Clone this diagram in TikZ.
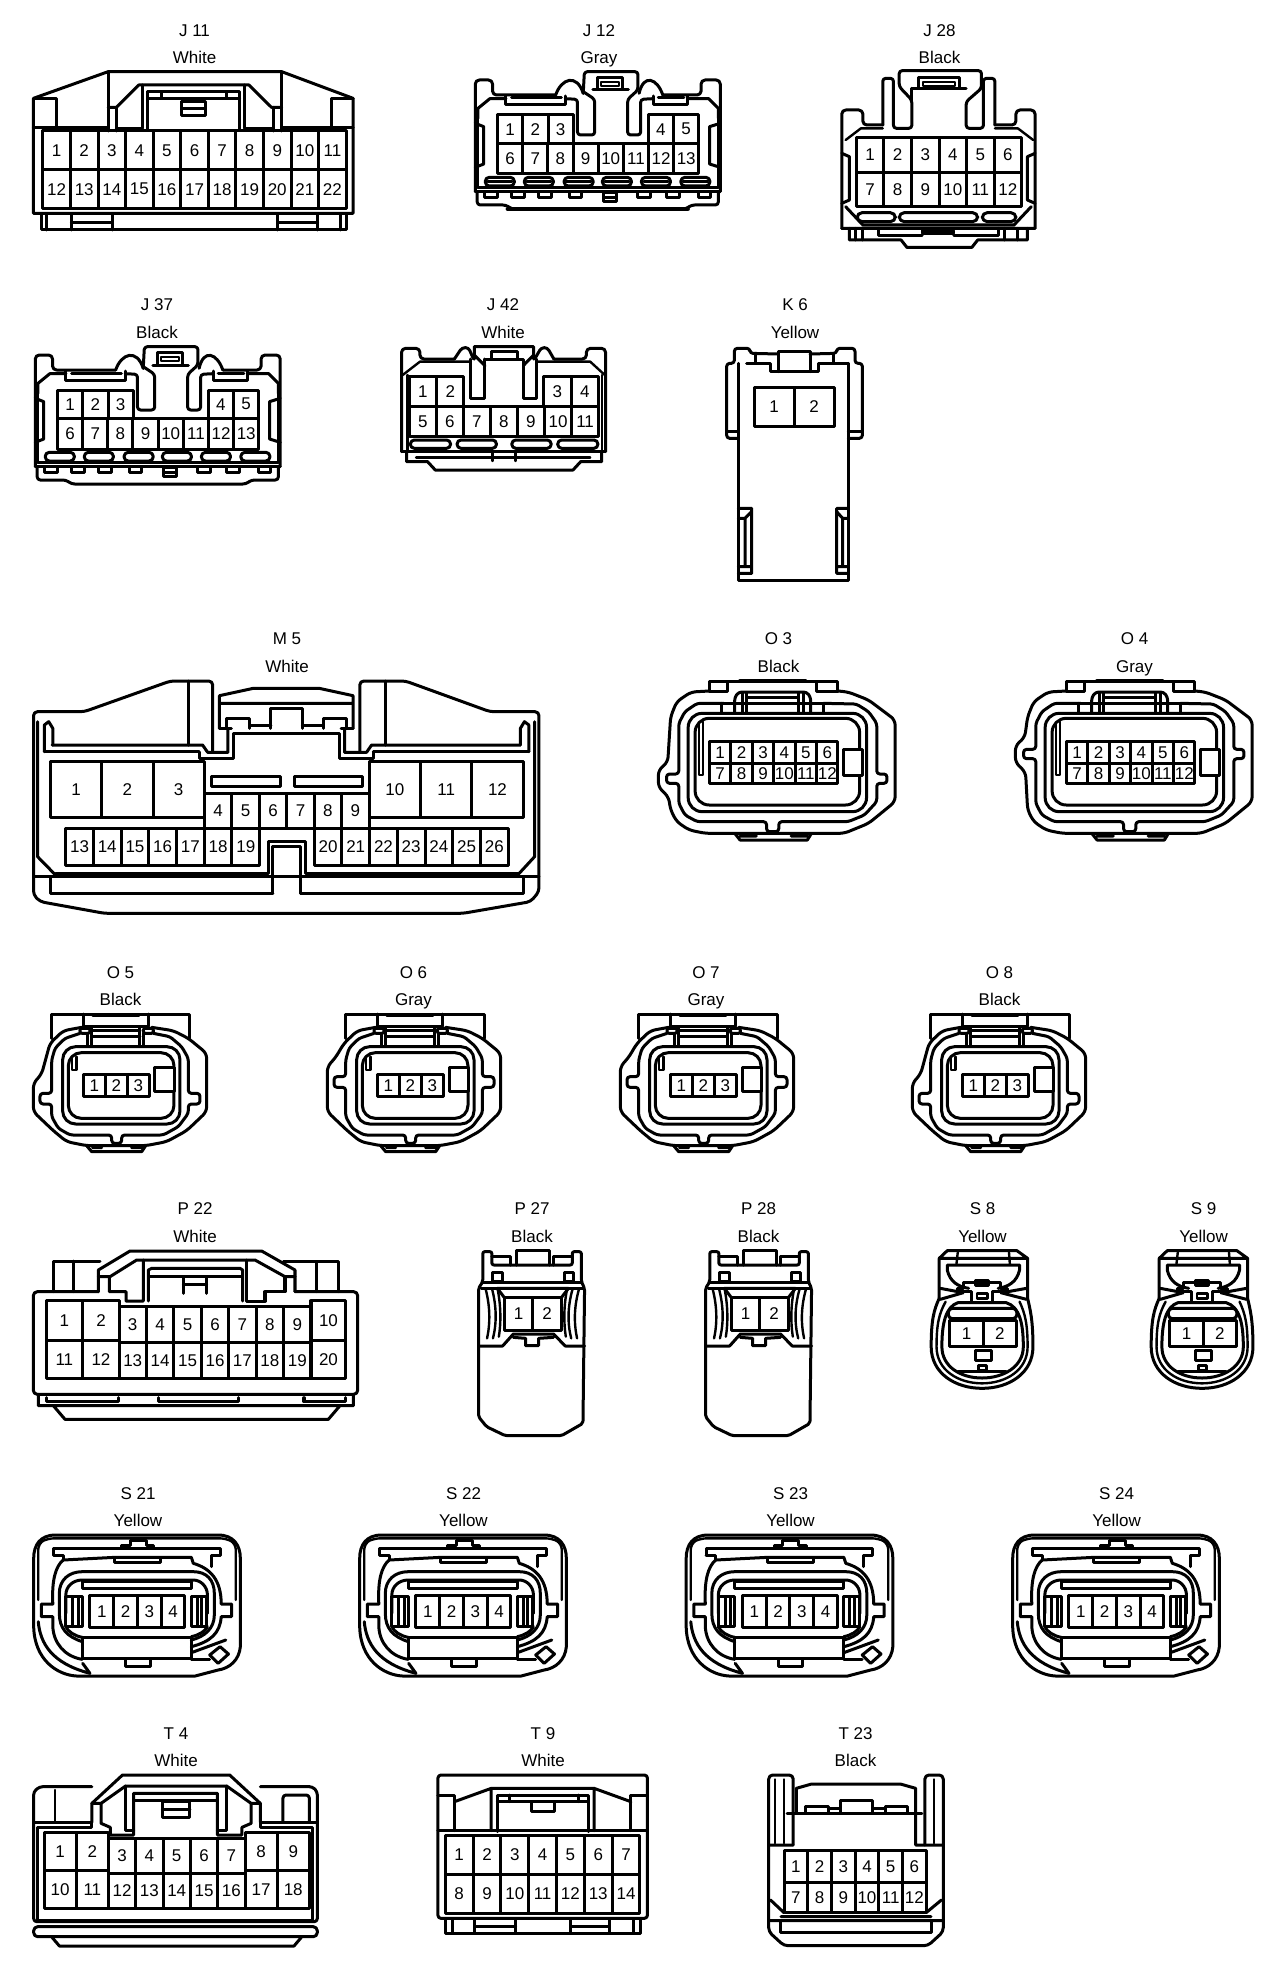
\documentclass[tikz,border=0pt]{standalone}
\usepackage{fontspec}
\setmainfont{Liberation Sans}
\usetikzlibrary{positioning}
\tikzset{view/.style n args={3}{shift={(#1,#2)},x=#3pt,y=-0.33333pt}}

% one row of numbered cavities: prefix, first, last, left, width, top, bottom
\newcommand\pinrow[7]{
    \foreach \n in {#2,...,#3}
        \draw[wire] ({#4+(\n-#2)*#5},#6) rectangle ({#4+(\n-#2+1)*#5},#7) node[midway,pinnum] (#1-\n) {\n};
}

% name and colour above a connector
\newcommand\tagged[5]{
    \node[tag] (#1-name) at (#2,#3) {#4};
    \node[tag] (#1-colour) at (#2,#3+27.5) {#5};
}

% body shared by J 12 and J 37
\newcommand\jbody[3]{
\begin{scope}[view={#2}{#3}{0.3827}]
    \draw[wire,rounded corners=4pt] (40,395) -- (40,60) -- (85,60) -- (85,105) -- (250,105);
    \draw[wire,rounded corners=4pt] (680,395) -- (680,60) -- (630,60) -- (630,105) -- (530,105);
    \draw[wire] (250,105) .. controls (265,55) and (305,40) .. (322,100);
    \draw[wire] (530,105) .. controls (515,55) and (480,40) .. (468,100);
    \draw[wire,rounded corners=3pt] (322,100) -- (325,35) -- (465,35) -- (465,90) -- (438,118) -- (438,225) -- (472,225) -- (472,118) -- (505,116);
    \draw[wire,rounded corners=3pt] (322,95) -- (352,118) -- (352,225) -- (307,225) -- (307,118) -- (275,116);
    \draw[wire] (347,90) -- (440,90) (358,88) -- (358,52) -- (425,52) -- (425,88);
    \draw[fine] (368,66) rectangle (415,78);
    \draw[wire] (47,175) -- (47,145) -- (78,116) -- (120,116) (595,116) -- (650,116) -- (675,145) -- (675,175);
    \draw[wire] (120,108) -- (120,135) -- (275,135) -- (275,108) (135,114) -- (265,114);
    \draw[wire] (505,108) -- (505,135) -- (595,135) -- (595,108) (518,114) -- (585,114);
    \draw[wire] (40,190) -- (62,200) -- (62,312) -- (40,322) (680,190) -- (652,200) -- (652,312) -- (680,322);
    \pinrow{#1}{1}{3}{98}{66}{165}{250}
    \pinrow{#1}{4}{5}{492}{66}{165}{250}
    \pinrow{#1}{6}{13}{98}{65.75}{250}{342}
    \foreach \x in {66,168,272,372,474,577}
        \draw[wire,rounded corners=4pt] (\x,352) rectangle ({\x+76},378);
    \draw[wire] (47,175) -- (47,382) -- (675,382) -- (675,175) (40,395) -- (680,395);
    \draw[wire,rounded corners=3pt] (45,395) -- (45,435) -- (120,435) -- (135,447) -- (590,447) -- (605,435) -- (675,435) -- (675,395);
    \foreach \x in {65,135,205,285,465,540,622}
        \draw[wire] (\x,397) -- (\x,412) -- ({\x+33},412) -- ({\x+33},397);
    \draw[wire] (375,397) rectangle (408,425) (375,412) -- (408,412);
\end{scope}
}

% large oval housing: O 3 and O 4
\newcommand\obig[3]{
\begin{scope}[view={#2}{620}{0.4082}]
    \pgfmathsetmacro\ta{#3-50}
    \pgfmathsetmacro\tb{#3-25}
    \pgfmathsetmacro\tc{#3+25}
    \pgfmathsetmacro\td{#3+55}
    \pgfmathsetmacro\te{#3-14}
    \pgfmathsetmacro\tf{#3+14}
    \draw[wire] (170,213) -- (170,183) -- (485,183) -- (485,213) (215,185) -- (215,213) -- (170,213) (432,185) -- (432,213) -- (485,213);
    \draw[wire,line width=4pt] (245,183) -- (405,183);
    \draw[wire,rounded corners=5pt] (170,213) -- (125,216) -- (90,245) -- (75,290) -- (68,\ta) -- (45,\tb) -- (45,\tc) -- (70,\td) -- (75,570) -- (90,605) -- (120,630) -- (160,640) -- (500,640) -- (560,610) -- (625,545) -- (625,300) -- (560,240) -- (510,216) -- (485,213);
    \draw[wire,rounded corners=3pt] (205,250) -- (140,250) -- (110,275) -- (95,310) -- (95,\te) -- (65,\te) -- (65,\tf) -- (95,\tf) -- (95,550) -- (110,585) -- (140,605) -- (310,605) -- (310,635) -- (340,635) -- (340,605) -- (510,605) -- (550,585) -- (580,545) -- (580,\tf) -- (605,\tf) -- (605,\te) -- (580,\te) -- (580,310) -- (560,275) -- (530,252) -- (450,250);
    \draw[wire,rounded corners=14pt] (118,280) rectangle (555,575) (135,295) rectangle (538,555);
    \draw[fine] (145,312) -- (145,465) -- (155,465) -- (155,305);
    \draw[wire,rounded corners=3pt] (232,278) -- (232,232) -- (242,216) -- (408,216) -- (418,232) -- (418,278);
    \draw[wire] (200,250) -- (200,276) (450,250) -- (450,276) (200,250) -- (260,250) (390,250) -- (450,250);
    \draw[wire] (250,218) -- (250,280) (262,218) -- (262,280) (388,218) -- (388,280) (400,218) -- (400,280);
    \draw[wire] (262,232) -- (388,232) (262,250) -- (388,250);
    \draw[wire] (232,640) -- (245,660) -- (410,660) -- (420,640) (245,648) -- (285,648) (370,648) -- (410,648);
    \draw[wire,fill=white] (498,388) rectangle (545,465);
    \pinrow{#1}{1}{6}{170}{52.5}{365}{430}
    \pinrow{#1}{7}{12}{170}{52.5}{430}{490}
\end{scope}
}

% small oval housing: O 5 to O 8
\newcommand\osmall[3]{
\begin{scope}[view={#2}{1000}{0.33333}]
    \pgfmathsetmacro\ta{#3-74}
    \pgfmathsetmacro\tb{#3-46}
    \pgfmathsetmacro\te{#3-16}
    \pgfmathsetmacro\tf{#3+16}
    \draw[wire] (155,115) -- (155,42) -- (570,42) -- (570,115) (250,42) -- (250,78) (445,42) -- (445,78) (250,78) -- (445,78);
    \draw[wire,line width=4pt] (280,45) -- (415,45);
    \draw[wire,rounded corners=5pt] (245,82) -- (190,92) -- (150,130) -- (125,\ta) -- (100,\tb) -- (100,335) -- (160,392) -- (200,425) -- (260,437) -- (437,437) -- (500,425) -- (560,392) -- (620,335) -- (620,160) -- (565,115) -- (520,92) -- (455,82);
    \draw[wire,rounded corners=3pt] (240,100) -- (195,115) -- (165,145) -- (155,180) -- (155,\te) -- (120,\te) -- (120,\tf) -- (155,\tf) -- (155,350) -- (175,385) -- (210,405) -- (335,405) -- (335,430) -- (365,430) -- (365,405) -- (490,405) -- (535,380) -- (565,340) -- (565,\tf) -- (600,\tf) -- (600,\te) -- (565,\te) -- (565,175) -- (545,140) -- (510,110) -- (460,100);
    \draw[wire,rounded corners=13pt] (188,140) rectangle (540,372) (205,158) rectangle (522,355);
    \draw[fine] (216,175) -- (216,210) -- (230,210) -- (230,170);
    \draw[wire,rounded corners=2pt] (240,85) rectangle (270,100) (430,85) rectangle (460,100);
    \draw[wire] (262,100) -- (262,135) (274,85) -- (274,135) (420,85) -- (420,135) (432,100) -- (432,135);
    \draw[wire] (274,90) -- (420,90) (274,108) -- (420,108);
    \draw[wire] (260,437) -- (275,455) -- (425,455) -- (437,437) (278,443) -- (305,443) (395,443) -- (425,443);
    \draw[wire,fill=white] (465,203) rectangle (523,275);
    \pinrow{#1}{1}{3}{250}{66}{223}{290}
\end{scope}
}

% narrow housing with skirt: P 27 and P 28
\newcommand\pnarrow[2]{
\begin{scope}[view={#2}{1220}{0.5357}]
    \draw[wire,rounded corners=2pt] (78,95) -- (78,185) -- (70,205) -- (70,590) -- (85,620) -- (120,647) -- (225,647) -- (265,610) -- (268,205) -- (262,185) -- (262,95) -- (245,95) -- (245,135) -- (95,135) -- (95,95) -- cycle;
    \draw[wire] (140,135) -- (140,92) -- (203,92) -- (203,135) (95,110) -- (130,110) -- (130,135) (210,135) -- (210,110) -- (245,110);
    \draw[wire] (78,187) -- (262,187) (97,157) rectangle (115,185) (230,157) rectangle (248,185);
    \draw[wire] (105,205) -- (238,205) (105,205) -- (118,232) (238,205) -- (225,232);
    \draw[fine] (75,205) -- (108,205) (235,205) -- (265,205);
    \draw[fine] (83,205) .. controls (92,260) and (92,310) .. (86,355) (95,205) .. controls (104,260) and (104,310) .. (97,355) (106,210) .. controls (112,260) and (112,310) .. (108,350);
    \draw[fine] (258,205) .. controls (248,260) and (248,310) .. (254,355) (246,205) .. controls (236,260) and (236,310) .. (243,355) (235,210) .. controls (229,260) and (229,310) .. (233,350);
    \pinrow{#1}{1}{2}{118}{53.5}{232}{330}
    \draw[wire] (70,378) -- (115,378) -- (135,342) -- (210,342) -- (232,378) -- (268,378);
    \draw[wire] (135,352) -- (158,355) -- (158,377) -- (182,377) -- (182,355) -- (210,352);
\end{scope}
}

% small oval with lens: S 8 and S 9
\newcommand\slens[2]{
\begin{scope}[view={#2}{1220}{0.5357}]
    \draw[wire] (930,235) -- (930,115) -- (945,92) -- (1075,92) -- (1095,115) -- (1095,235) (930,115) -- (1095,115);
    \draw[fine] (965,92) -- (962,135) (1060,92) -- (1062,135);
    \draw[wire] (945,135) -- (1080,135) (945,135) -- (945,150) .. controls (950,185) and (965,200) .. (985,205) (1080,135) -- (1080,150) .. controls (1075,185) and (1060,200) .. (1040,205);
    \draw[wire] (965,205) -- (975,205) -- (975,187) -- (1045,187) -- (1045,205) -- (1058,205) -- (1058,215) (965,205) -- (965,215) -- (990,215) -- (990,245) (1058,215) -- (1030,215) -- (1030,245);
    \draw[fine] (998,182) rectangle (1022,197) (1000,220) rectangle (1020,235);
    \draw[wire] (932,205) -- (965,215) (932,238) -- (975,218) (1093,205) -- (1058,215) (1093,238) -- (1045,218);
    \draw[wire] (930,235) .. controls (920,270) and (915,300) .. (915,380) .. controls (915,460) and (960,505) .. (1010,505) .. controls (1060,505) and (1105,460) .. (1105,380) .. controls (1105,300) and (1100,270) .. (1095,235);
    \draw[fine] (942,245) .. controls (930,280) and (925,310) .. (925,380) .. controls (925,450) and (965,490) .. (1010,490) .. controls (1055,490) and (1095,450) .. (1095,380) .. controls (1095,310) and (1090,280) .. (1080,245);
    \draw[wire] (965,248) -- (1055,248) .. controls (1080,260) and (1087,310) .. (1087,380) .. controls (1087,440) and (1050,474) .. (1010,474) .. controls (970,474) and (935,440) .. (935,380) .. controls (935,310) and (942,260) .. cycle;
    \draw[wire,rounded corners=4pt] (947,296) -- (947,265) -- (1075,265) -- (1075,296) -- cycle;
    \pinrow{#1}{1}{2}{950}{62}{300}{380}
    \draw[wire] (997,392) rectangle (1027,420) (1003,435) rectangle (1018,452) (965,455) -- (1055,455);
\end{scope}
}

% four pin housing: S 21 to S 24
\newcommand\sfour[2]{
\begin{scope}[view={#2}{1500}{0.3827}]
    \draw[wire] (145,105) -- (570,105) .. controls (610,105) and (628,135) .. (628,175) -- (628,440) .. controls (625,480) and (600,505) .. (570,510) -- (510,528) -- (200,528) .. controls (150,525) and (90,480) .. (88,380) -- (88,175) .. controls (88,135) and (105,105) .. (145,105) -- cycle;
    \draw[fine,rounded corners=6pt] (100,300) -- (100,130) -- (125,115) -- (590,115) -- (616,130) -- (616,300);
    \draw[wire] (100,365) .. controls (105,430) and (135,490) .. (235,520) (216,490) -- (235,520);
    \draw[wire] (140,165) -- (140,145) -- (575,145) -- (575,165) -- (552,165) -- (552,200) (140,165) -- (165,165) -- (165,180);
    \draw[wire] (318,145) -- (318,135) -- (340,135) -- (340,122) -- (382,122) -- (382,135) -- (402,135) -- (402,145);
    \draw[wire] (165,180) .. controls (145,200) and (135,240) .. (138,312) -- (108,312) -- (108,350) -- (138,350) -- (138,380) .. controls (140,430) and (170,470) .. (215,478);
    \draw[wire] (165,180) -- (300,172) -- (500,172) -- (505,190) .. controls (550,205) and (578,240) .. (578,312) -- (605,312) -- (605,350) -- (578,350) .. controls (575,400) and (550,425) .. (500,440);
    \draw[wire] (300,172) rectangle (420,187);
    \draw[wire] (215,425) .. controls (175,410) and (155,385) .. (155,340) -- (155,280) .. controls (155,240) and (180,215) .. (215,215) -- (505,215) .. controls (540,215) and (560,240) .. (560,280) -- (560,345) .. controls (560,385) and (535,410) .. (500,420);
    \draw[wire] (172,340) -- (172,285) .. controls (172,260) and (190,240) .. (215,240) -- (505,240) .. controls (525,240) and (542,260) .. (542,285) -- (542,340);
    \draw[wire] (215,245) rectangle (500,265);
    \draw[wire] (172,290) rectangle (215,380) (190,290) -- (190,380) (205,290) -- (205,380);
    \draw[wire] (500,290) rectangle (540,380) (515,290) -- (515,380) (527,290) -- (527,380);
    \draw[wire] (172,380) .. controls (178,395) and (195,408) .. (215,412) (542,380) .. controls (535,395) and (520,405) .. (500,410) (500,458) -- (590,420);
    \pinrow{#1}{1}{4}{235}{62}{285}{382}
    \draw[wire] (215,412) rectangle (500,476) (500,478) -- (548,478);
    \draw[wire] (328,476) -- (328,500) -- (392,500) -- (392,476);
    \draw[wire,fill=white] (548,465) -- (575,440) -- (597,462) -- (570,490) -- cycle;
\end{scope}
}

\begin{document}
\begin{tikzpicture}[x=1pt,y=-1pt]
    \tikzstyle{wire}=[draw=black,line width=3pt,line join=round,line cap=round]
    \tikzstyle{fine}=[draw=black,line width=2.4pt,line join=round,line cap=round]
    \tikzstyle{tag}=[font=\fontsize{17}{17}\selectfont,anchor=base,inner sep=0pt]
    \tikzstyle{pinnum}=[font=\fontsize{17}{17}\selectfont,anchor=center,inner sep=0pt]
    \useasboundingbox (0,0) rectangle (1280,1972);

    % Write the names and colours
    \tagged{J11}{194.5}{36.5}{J 11}{White}
    \tagged{J12}{599}{36.5}{J 12}{Gray}
    \tagged{J28}{939.5}{36.5}{J 28}{Black}
    \tagged{J37}{157}{310.5}{J 37}{Black}
    \tagged{J42}{503}{310.5}{J 42}{White}
    \tagged{K6}{795}{310.5}{K 6}{Yellow}
    \tagged{M5}{287}{644.5}{M 5}{White}
    \tagged{O3}{778.5}{644.5}{O 3}{Black}
    \tagged{O4}{1134.5}{644.5}{O 4}{Gray}
    \tagged{O5}{120.5}{978}{O 5}{Black}
    \tagged{O6}{413.5}{978}{O 6}{Gray}
    \tagged{O7}{706}{978}{O 7}{Gray}
    \tagged{O8}{999.5}{978}{O 8}{Black}
    \tagged{P22}{195}{1214.5}{P 22}{White}
    \tagged{P27}{532}{1214.5}{P 27}{Black}
    \tagged{P28}{758.5}{1214.5}{P 28}{Black}
    \tagged{S8}{982.5}{1214.5}{S 8}{Yellow}
    \tagged{S9}{1203.5}{1214.5}{S 9}{Yellow}
    \tagged{S21}{138}{1499}{S 21}{Yellow}
    \tagged{S22}{463.5}{1499}{S 22}{Yellow}
    \tagged{S23}{790.5}{1499}{S 23}{Yellow}
    \tagged{S24}{1116.5}{1499}{S 24}{Yellow}
    \tagged{T4}{176}{1739}{T 4}{White}
    \tagged{T9}{543}{1739}{T 9}{White}
    \tagged{T23}{855.5}{1739}{T 23}{Black}

    % J 11
    \begin{scope}[view={0}{0}{0.4082}]
        \draw[wire] (82,640) -- (82,295) -- (265,215) -- (690,215) -- (865,295) -- (865,640) -- cycle;
        \draw[wire] (102,645) -- (102,690) -- (850,690) -- (850,645);
        \foreach \x in {115,175,275,680,778,835}
            \draw[wire] (\x,645) -- (\x,690);
        \draw[wire] (175,668) -- (275,668) (680,668) -- (778,668);
        \draw[wire] (85,297) -- (138,297) -- (138,380) (812,380) -- (812,297) -- (865,297);
        \draw[wire] (82,382) -- (265,382) (690,382) -- (865,382);
        \draw[wire] (265,215) -- (265,393) (285,322) -- (285,393) (670,322) -- (670,393) (690,215) -- (690,393);
        \draw[wire] (265,322) -- (285,322) -- (340,255) -- (610,255) -- (665,322) -- (690,322);
        \draw[wire] (285,385) -- (350,385) -- (350,255) (600,255) -- (600,385) -- (670,385);
        \draw[wire] (362,390) -- (362,275) -- (587,275) -- (587,390);
        \draw[wire] (362,295) -- (587,295) (395,275) -- (395,295) (555,275) -- (555,295);
        \draw[wire] (445,305) rectangle (503,348) (445,325) -- (503,325);
        \pinrow{J11}{1}{11}{105}{67.55}{393}{510}
        \pinrow{J11}{12}{22}{105}{67.55}{510}{625}
    \end{scope}

    % J 12
    \jbody{J12}{460}{60}
    \begin{scope}[view={460}{60}{0.3827}]
        \foreach \x in {66,168,272,372,474,577}
            \draw[fine] ({\x+6},365) -- ({\x+70},365);
        \draw[wire,line width=4.5pt] (125,447) -- (595,447);
    \end{scope}

    % J 28
    \begin{scope}[view={461}{60}{0.3827}]
        \draw[wire,rounded corners=4pt] (995,505) -- (995,150) -- (1050,150) -- (1050,195) -- (1102,195);
        \draw[wire,rounded corners=4pt] (1500,505) -- (1500,150) -- (1450,150) -- (1450,195) -- (1395,195);
        \draw[wire,rounded corners=3pt] (1102,195) -- (1102,55) -- (1130,55) -- (1130,205) -- (1178,205) -- (1178,120) -- (1145,80) -- (1145,32) -- (1360,32) -- (1360,85) -- (1320,125) -- (1320,205) -- (1365,205) -- (1365,55) -- (1395,55) -- (1395,195);
        \draw[wire] (1178,85) -- (1320,85) (1178,85) -- (1178,120) (1195,85) -- (1195,52) -- (1303,52) -- (1303,85);
        \draw[fine] (1207,66) rectangle (1290,78);
        \draw[fine] (1005,240) -- (1045,205) -- (1102,205) (1395,205) -- (1455,205) -- (1495,240);
        \draw[wire] (995,280) -- (1015,290) -- (1015,420) -- (995,430) (1500,280) -- (1480,290) -- (1480,420) -- (1500,430);
        \pinrow{J28}{1}{6}{1033}{72}{232}{337}
        \pinrow{J28}{7}{12}{1033}{72}{337}{440}
        \draw[wire,rounded corners=5pt] (1035,458) rectangle (1135,485) (1145,458) rectangle (1350,485) (1362,458) rectangle (1450,485);
        \draw[wire] (1005,440) -- (1050,495) -- (1445,495) -- (1490,440) (995,505) -- (1500,505);
        \draw[wire] (1015,505) -- (1015,540) -- (1150,540) -- (1165,562) -- (1335,562) -- (1350,540) -- (1480,540) -- (1480,505);
        \draw[wire] (1030,505) -- (1030,540) (1048,505) -- (1048,540) (1090,505) -- (1090,528) -- (1205,528) (1288,528) -- (1405,528) -- (1405,505);
        \draw[wire] (1205,512) rectangle (1288,522) (1420,505) -- (1420,540) (1455,505) -- (1455,540);
    \end{scope}

    % J 37
    \jbody{J37}{20}{335}

    % J 42
    \begin{scope}[view={20}{335}{0.3827}]
        \draw[wire,rounded corners=4pt] (997,350) -- (997,40) -- (1045,40) -- (1045,72) -- (1135,72);
        \draw[wire,rounded corners=4pt] (1530,350) -- (1530,40) -- (1480,40) -- (1480,72) -- (1395,72);
        \draw[wire,rounded corners=3pt] (1135,72) -- (1155,38) -- (1172,38) -- (1185,72) (1395,72) -- (1378,38) -- (1362,38) -- (1345,72);
        \draw[wire] (1187,72) -- (1187,35) -- (1342,35) -- (1342,72) (1187,60) -- (1215,92) (1342,60) -- (1315,92);
        \draw[wire] (1232,72) -- (1232,50) -- (1300,50) -- (1300,72) (1215,72) -- (1315,72) -- (1315,190) -- (1350,190) -- (1350,72);
        \draw[wire] (1215,72) -- (1215,190) -- (1178,190) -- (1178,72);
        \draw[fine] (1000,120) -- (1045,80) -- (1178,80) (1350,80) -- (1490,80) -- (1528,120);
        \draw[fine] (1012,345) -- (1012,120) (1520,345) -- (1520,120);
        \pinrow{J42}{1}{2}{1017}{71.5}{125}{215}
        \pinrow{J42}{3}{4}{1368}{72}{125}{215}
        \pinrow{J42}{5}{11}{1017}{70.7}{215}{305}
        \foreach \a/\b in {1020/1125,1142/1245,1285/1388,1405/1510}
            \draw[wire,rounded corners=4pt] (\a,315) rectangle (\b,340);
        \draw[wire] (997,350) -- (1530,350);
        \draw[wire] (1010,350) -- (1010,380) -- (1065,380) -- (1085,405) -- (1445,405) -- (1465,380) -- (1520,380) -- (1520,350);
        \draw[fine] (1035,368) -- (1490,368) (1235,355) -- (1235,378) (1295,355) -- (1295,378);
    \end{scope}

    % K 6
    \begin{scope}[view={700}{330}{0.33333}]
        \draw[wire,rounded corners=3pt] (115,325) -- (80,325) -- (80,100) -- (103,100) -- (103,55) -- (150,55) -- (150,70) -- (235,72);
        \draw[wire,rounded corners=3pt] (445,325) -- (487,325) -- (487,100) -- (465,100) -- (465,55) -- (410,55) -- (410,70) -- (330,72);
        \draw[wire] (115,100) -- (115,750) -- (445,750) -- (445,100);
        \draw[wire] (235,125) -- (235,65) -- (330,65) -- (330,125);
        \draw[wire] (140,100) -- (210,100) -- (210,125) -- (355,125) -- (355,100) -- (445,100);
        \draw[wire] (165,70) -- (165,100) (400,70) -- (400,100);
        \draw[wire] (82,305) -- (115,305) (445,305) -- (487,305);
        \pinrow{K6}{1}{2}{162}{120}{172}{290}
        \draw[wire] (115,535) -- (155,535) -- (155,730) -- (115,730) (135,565) -- (135,710) (115,565) -- (135,565) -- (155,545) (115,710) -- (155,710);
        \draw[wire] (445,535) -- (410,535) -- (410,730) -- (445,730) (428,565) -- (428,710) (445,565) -- (428,565) -- (410,545) (445,710) -- (410,710);
    \end{scope}

    % M 5
    \begin{scope}[view={20}{665}{0.3381}]
        \draw[wire,rounded corners=4pt] (570,262) -- (570,48) -- (445,48) -- (190,140) -- (40,140) -- (40,690) -- (60,710) -- (250,745) -- (1310,745) -- (1510,710) -- (1535,680) -- (1535,140) -- (1390,140) -- (1140,48) -- (1005,48) -- (1005,262);
        \draw[wire] (497,48) -- (497,240) (1080,48) -- (1080,240);
        \draw[wire] (590,190) -- (590,92) -- (690,70) -- (885,70) -- (985,92) -- (985,190) (590,115) -- (985,115);
        \draw[wire] (742,190) -- (742,130) -- (835,130) -- (835,190) (610,190) -- (610,160) -- (680,160) -- (680,190) (897,190) -- (897,160) -- (965,160) -- (965,190);
        \draw[wire] (680,180) -- (742,180) (835,180) -- (897,180) (590,190) -- (625,190) (950,190) -- (985,190);
        \draw[wire] (530,262) -- (530,280) -- (630,280) -- (630,205) -- (945,205) -- (945,280) -- (1045,280) -- (1045,262);
        \draw[wire] (95,240) -- (540,240) -- (555,262) -- (615,262) -- (615,195) (1480,240) -- (1040,240) -- (1025,262) -- (960,262) -- (960,195);
        \draw[wire] (72,260) -- (530,260) (1045,260) -- (1505,260);
        \draw[wire] (72,260) -- (72,180) -- (85,170) -- (97,190) -- (97,240) (1505,260) -- (1505,180) -- (1492,170) -- (1480,190) -- (1480,240);
        \draw[wire] (52,170) -- (52,575) -- (105,630) (1522,170) -- (1522,575) -- (1472,630);
        \pinrow{M5}{1}{3}{90}{151.7}{290}{458}
        \pinrow{M5}{10}{12}{1033}{151.7}{290}{458}
        \pinrow{M5}{4}{9}{545}{81.3}{385}{490}
        \pinrow{M5}{13}{19}{135}{82}{490}{600}
        \pinrow{M5}{20}{26}{870}{82}{490}{600}
        \draw[wire] (565,335) rectangle (770,363) (812,335) rectangle (1012,363);
        \draw[wire] (710,490) -- (870,490);
        \draw[wire] (105,625) -- (735,625) -- (735,530) -- (845,530) -- (845,625) -- (1472,625);
        \draw[wire] (748,685) -- (748,545) -- (830,545) -- (830,685);
        \draw[wire] (90,635) -- (90,685) -- (748,685) (830,685) -- (1490,685) -- (1490,635) (40,635) -- (1535,635);
    \end{scope}

    % O 3 and O 4
    \obig{O3}{640}{476}
    \obig{O4}{997}{402}

    % O 5 to O 8
    \osmall{O5}{0}{296}
    \osmall{O6}{294}{246}
    \osmall{O7}{587}{246}
    \osmall{O8}{879}{296}

    % P 22
    \begin{scope}[view={20}{1235}{0.33333}]
        \draw[wire,rounded corners=4pt] (235,170) -- (40,170) -- (40,478) -- (1013,478) -- (1013,170) -- (825,170);
        \draw[wire] (100,170) -- (100,78) -- (240,78) (160,78) -- (160,170) (890,170) -- (890,78) -- (955,78) -- (955,170) (790,78) -- (890,78);
        \draw[wire] (235,170) -- (235,105) -- (330,48) -- (725,48) -- (825,105) -- (825,170);
        \draw[wire] (235,125) -- (270,125) -- (350,75) -- (705,75) -- (795,125) -- (825,125);
        \draw[wire] (268,125) -- (268,170) -- (318,170) -- (318,198) -- (370,198) -- (370,75) (385,198) -- (385,105) -- (395,100) -- (660,100) -- (668,105) -- (668,198);
        \draw[wire] (680,75) -- (680,198) -- (735,198) -- (735,170) -- (795,170) -- (795,125) (390,125) -- (665,125);
        \draw[wire] (490,125) -- (490,175) (560,125) -- (560,175) (490,148) -- (560,148);
        \pinrow{P22}{1}{2}{78}{110}{197}{315}
        \pinrow{P22}{11}{12}{78}{110}{315}{430}
        \pinrow{P22}{3}{9}{297}{82.3}{215}{322}
        \pinrow{P22}{13}{19}{297}{82.3}{322}{430}
        \pinrow{P22}{10}{10}{873}{105}{197}{315}
        \pinrow{P22}{20}{20}{873}{105}{315}{430}
        \draw[wire] (55,478) -- (55,512) -- (100,512) -- (135,553) -- (925,553) -- (960,512) -- (1000,512) -- (1000,478) (55,512) -- (1000,512);
        \draw[wire] (78,488) -- (78,500) -- (295,500) -- (295,488) (415,488) -- (415,500) -- (655,500) -- (655,488) (852,488) -- (852,500) -- (978,500) -- (978,488);
    \end{scope}

    % P 27 and P 28
    \pnarrow{P27}{441}
    \pnarrow{P28}{668}

    % S 8 and S 9
    \slens{S8}{441}
    \slens{S9}{661}

    % S 21 to S 24
    \sfour{S21}{0}
    \sfour{S22}{326}
    \sfour{S23}{652.5}
    \sfour{S24}{979}

    % T 4
    \begin{scope}[view={0}{1720}{0.6125}]
        \draw[wire,rounded corners=3pt] (150,200) -- (65,200) -- (55,215) -- (55,605) -- (518,605) -- (518,215) -- (510,200) -- (425,200);
        \draw[wire] (150,305) -- (150,250) -- (200,165) -- (375,165) -- (425,250) -- (425,305);
        \draw[fine] (90,210) -- (90,305);
        \draw[wire,rounded corners=3pt] (462,305) -- (462,225) -- (505,225) -- (505,305);
        \draw[wire] (55,308) -- (150,308) (425,308) -- (518,308);
        \draw[wire] (62,600) -- (62,322) -- (150,322) -- (150,305) (425,305) -- (425,322) -- (510,322) -- (510,600) -- (62,600);
        \draw[wire] (150,250) -- (165,250) -- (205,198) -- (370,198) -- (410,250) -- (425,250);
        \draw[wire] (165,250) -- (165,310) -- (180,322) -- (180,345) -- (218,345) -- (218,220) -- (355,220) -- (355,345) -- (395,345) -- (395,322) -- (410,310) -- (410,250);
        \draw[wire] (205,198) -- (205,330) -- (218,330) (370,198) -- (370,330) -- (355,330) (218,240) -- (355,240);
        \draw[wire] (265,245) rectangle (310,292) (265,268) -- (310,268);
        \pinrow{T4}{1}{2}{72}{52.5}{337}{450}
        \pinrow{T4}{10}{11}{72}{52.5}{450}{565}
        \pinrow{T4}{3}{7}{177}{44.6}{355}{460}
        \pinrow{T4}{12}{16}{177}{44.6}{460}{565}
        \pinrow{T4}{8}{9}{400}{52.5}{337}{450}
        \pinrow{T4}{17}{18}{400}{52.5}{450}{565}
        \draw[wire,rounded corners=4pt] (55,620) rectangle (518,650);
        \draw[wire] (85,652) -- (97,678) -- (480,678) -- (492,652);
    \end{scope}

    % T 9
    \begin{scope}[view={0}{1720}{0.6125}]
        \draw[wire,rounded corners=3pt] (715,595) -- (715,165) -- (1057,165) -- (1057,595) -- cycle;
        \draw[wire] (715,225) -- (742,225) -- (742,332) (1057,225) -- (1030,225) -- (1030,332) (715,332) -- (1057,332);
        \draw[wire] (742,245) -- (802,205) -- (970,205) -- (1030,245) (802,205) -- (802,332) (970,205) -- (970,332);
        \draw[wire] (812,335) -- (812,225) -- (960,225) -- (960,335) (812,245) -- (960,245) (832,225) -- (832,245) (945,225) -- (945,245);
        \draw[wire] (868,247) -- (868,275) -- (905,275) -- (905,247);
        \pinrow{T9}{1}{7}{727}{45.4}{345}{463}
        \pinrow{T9}{8}{14}{727}{45.4}{463}{580}
        \draw[wire] (728,598) -- (728,640) -- (1045,640) -- (1045,598);
        \foreach \x in {738,775,842,932,995,1035}
            \draw[wire] (\x,598) -- (\x,640);
        \draw[wire] (775,620) -- (842,620) (932,620) -- (995,620);
    \end{scope}

    % T 23
    \begin{scope}[view={0}{1720}{0.6125}]
        \draw[wire,rounded corners=4pt] (1295,375) -- (1295,165) -- (1255,165) -- (1255,635) -- (1280,677) -- (1515,677) -- (1540,635) -- (1540,165) -- (1510,165) -- (1510,375);
        \draw[fine] (1265,178) -- (1265,370) (1280,178) -- (1280,370) (1525,178) -- (1525,370);
        \draw[wire] (1255,375) -- (1295,375) (1510,375) -- (1495,375) -- (1495,205) -- (1470,192) -- (1325,192) -- (1300,205) -- (1300,280) (1510,375) -- (1540,375);
        \draw[wire] (1285,280) -- (1505,280) (1315,280) -- (1315,258) -- (1352,258) -- (1352,280) (1372,280) -- (1372,242) -- (1425,242) -- (1425,280) (1445,280) -- (1445,258) -- (1482,258) -- (1482,280);
        \draw[fine] (1352,265) -- (1372,265) (1425,265) -- (1445,265);
        \pinrow{T23}{1}{6}{1280}{38.7}{392}{487}
        \pinrow{T23}{7}{12}{1280}{38.7}{487}{578}
        \draw[wire] (1258,540) -- (1280,578) (1537,540) -- (1512,578) (1275,590) -- (1520,590) (1255,602) -- (1540,602);
        \draw[wire] (1275,602) -- (1275,638) -- (1520,638) -- (1520,602);
    \end{scope}
\end{tikzpicture}
\end{document}
